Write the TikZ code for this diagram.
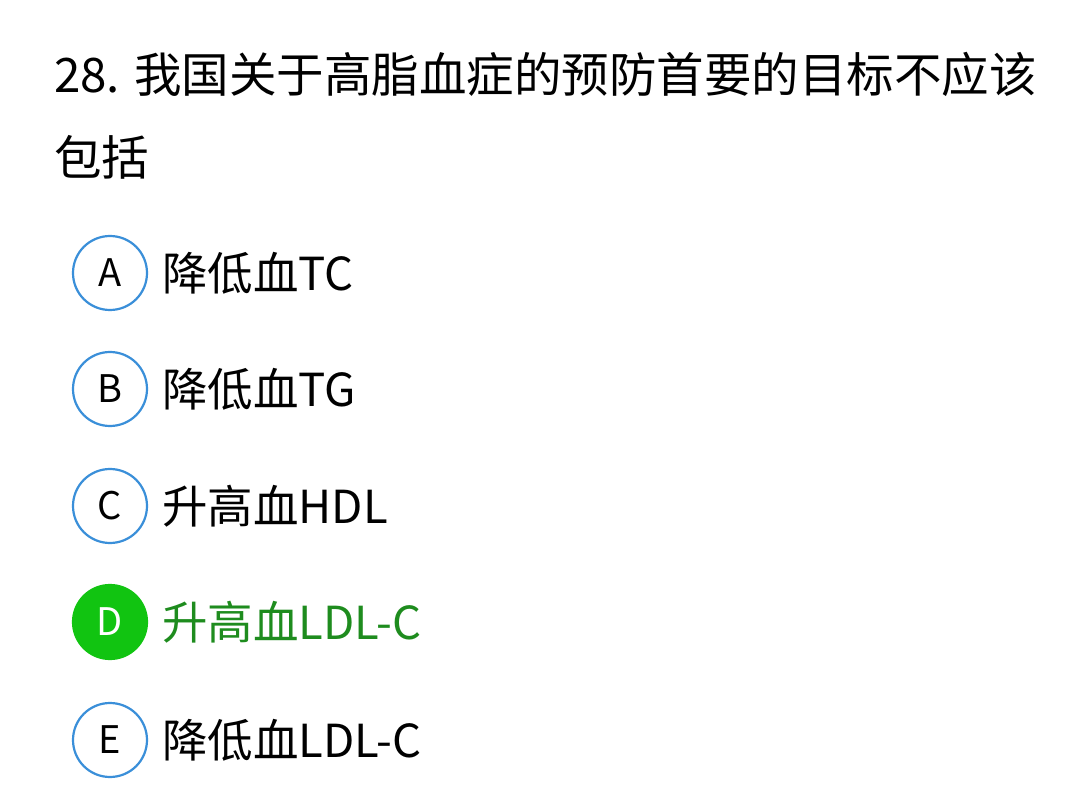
\documentclass[tikz,border=0pt]{standalone}
\usepackage{fontspec}
\setmainfont{Noto Sans CJK SC}
\definecolor{cblue}{HTML}{3A8FD9}
\definecolor{cgreen}{HTML}{11C411}
\definecolor{tgreen}{HTML}{1E8C1E}
\begin{document}
\begin{tikzpicture}[x=1pt,y=-1pt,
  opt/.style={circle,draw=cblue,line width=2.2pt,minimum size=74pt,inner sep=0pt,font=\fontsize{38}{44}\selectfont},
  txt/.style={anchor=west,inner sep=0pt,font=\fontsize{45.5}{52}\selectfont}]
\useasboundingbox[fill=white] (0,0) rectangle (1080,794);
\node[anchor=base west,inner sep=0pt,font=\fontsize{47.5}{54}\selectfont] (t1) at (54,93) {28. 我国关于高脂血症的预防首要的目标不应该};
\node[anchor=base west,inner sep=0pt,font=\fontsize{47.5}{54}\selectfont] (t2) at (54,176) {包括};
\node[opt] (a) at (110,273) {A};
\node[txt] (ta) at (162,273) {降低血TC};
\node[opt] (b) at (110,389) {B};
\node[txt] (tb) at (162,389) {降低血TG};
\node[opt] (c) at (110,506) {C};
\node[txt] (tc) at (162,506) {升高血HDL};
\node[opt,fill=cgreen,draw=cgreen,text=white] (d) at (110,622) {D};
\node[txt,text=tgreen] (td) at (162,622) {升高血LDL-C};
\node[opt] (e) at (110,740) {E};
\node[txt] (te) at (162,740) {降低血LDL-C};
\end{tikzpicture}
\end{document}
